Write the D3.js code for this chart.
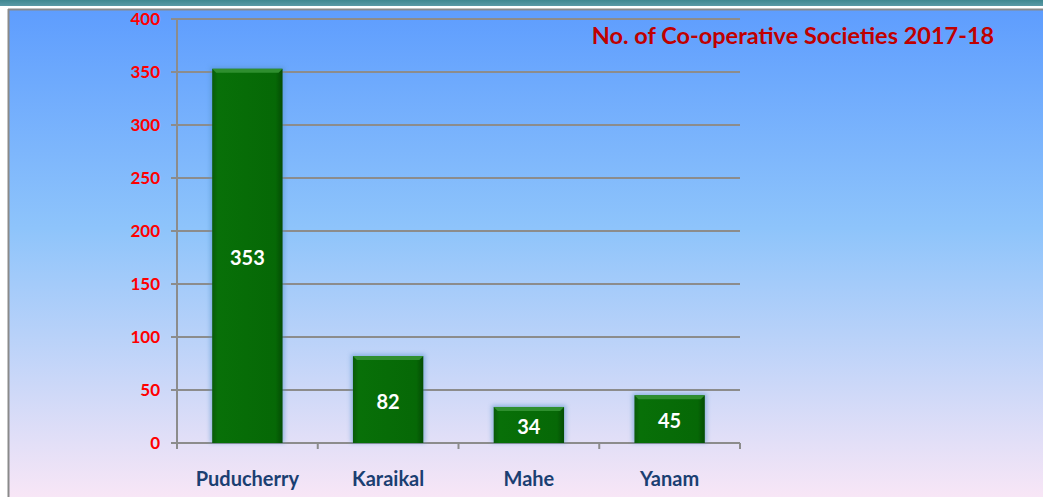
<!DOCTYPE html>
<html lang="en">
<head>
<meta charset="utf-8">
<title>No. of Co-operative Societies 2017-18</title>
<script src="https://cdn.jsdelivr.net/npm/d3@7"></script>
<style>
  body { margin: 0; background: #fff; }
  svg { display: block; font-family: Lato, "Open Sans", sans-serif; }
</style>
</head>
<body>
<script>
// data
var regions = ["Puducherry", "Karaikal", "Mahe", "Yanam"];
var societies = [353, 82, 34, 45];
var yTicks = [0, 50, 100, 150, 200, 250, 300, 350, 400];
var title = "No. of Co-operative Societies 2017-18";

var w = 1043, h = 497;
var svg = d3.select("body").append("svg").attr("width", w).attr("height", h);
var defs = svg.append("defs");

// page background gradient
var bg = defs.append("linearGradient").attr("id", "bg").attr("x1", 0).attr("y1", 0).attr("x2", 0).attr("y2", 1);
bg.append("stop").attr("offset", "0%").attr("stop-color", "#5e9dfe");
bg.append("stop").attr("offset", "45%").attr("stop-color", "#8ec4fb");
bg.append("stop").attr("offset", "100%").attr("stop-color", "#f8e6f6");

var topBand = defs.append("linearGradient").attr("id", "topband").attr("x1", 0).attr("y1", 0).attr("x2", 0).attr("y2", 1);
topBand.append("stop").attr("offset", "0%").attr("stop-color", "#3f8790");
topBand.append("stop").attr("offset", "100%").attr("stop-color", "#5a9aa6");

// bar gradient (slight bevel look)
var barG = defs.append("linearGradient").attr("id", "barg").attr("x1", 0).attr("y1", 0).attr("x2", 1).attr("y2", 0);
barG.append("stop").attr("offset", "0%").attr("stop-color", "#0a5a0a");
barG.append("stop").attr("offset", "8%").attr("stop-color", "#087008");
barG.append("stop").attr("offset", "90%").attr("stop-color", "#066806");
barG.append("stop").attr("offset", "100%").attr("stop-color", "#044c04");

var shadow = defs.append("filter").attr("id", "glow").attr("x", "-20%").attr("y", "-20%").attr("width", "140%").attr("height", "140%");
shadow.append("feGaussianBlur").attr("stdDeviation", 2);

svg.append("rect").attr("width", w).attr("height", h).attr("fill", "#fff");
svg.append("rect").attr("x", 0).attr("y", 0).attr("width", w).attr("height", 6).attr("fill", "url(#topband)");
svg.append("rect").attr("x", 8).attr("y", 9).attr("width", w - 8).attr("height", h - 9)
  .attr("fill", "url(#bg)");
svg.append("line").attr("x1", 8).attr("x2", w).attr("y1", 9.5).attr("y2", 9.5).attr("stroke", "#8a8a8a").attr("stroke-width", 2);
svg.append("line").attr("x1", 8.5).attr("x2", 8.5).attr("y1", 9).attr("y2", h).attr("stroke", "#8a8a8a").attr("stroke-width", 2);

// scales
var x = d3.scaleBand().domain(regions).range([177, 740]).paddingInner(0.5).paddingOuter(0.25);
var y = d3.scaleLinear().domain([0, 400]).range([443, 19]);

// gridlines
svg.append("g").selectAll("line")
  .data(yTicks)
  .enter()
  .append("line")
  .attr("x1", 171)
  .attr("x2", 740)
  .attr("y1", function(d) { return y(d); })
  .attr("y2", function(d) { return y(d); })
  .attr("stroke", "#8c8c8c")
  .attr("stroke-width", 2);

// y axis line
svg.append("line").attr("x1", 177).attr("x2", 177).attr("y1", y(400)).attr("y2", y(0) + 1)
  .attr("stroke", "#8c8c8c").attr("stroke-width", 2);

// x ticks between categories
var xEdges = d3.range(regions.length + 1).map(function(i) { return 177 + i * (740 - 177) / regions.length; });
svg.append("g").selectAll("line")
  .data(xEdges)
  .enter()
  .append("line")
  .attr("x1", function(d) { return d; })
  .attr("x2", function(d) { return d; })
  .attr("y1", y(0))
  .attr("y2", y(0) + 6)
  .attr("stroke", "#8c8c8c")
  .attr("stroke-width", 2);

// y tick labels
svg.append("g").selectAll("text")
  .data(yTicks)
  .enter()
  .append("text")
  .text(function(d) { return d; })
  .attr("x", 160)
  .attr("y", function(d) { return y(d) + 6; })
  .attr("text-anchor", "end")
  .attr("font-size", "17px")
  .attr("font-weight", "bold")
  .attr("fill", "#ff0000");

// bars with soft glow
var bars = svg.append("g").selectAll("g")
  .data(societies)
  .enter()
  .append("g");

bars.append("rect")
  .attr("x", function(d, i) { return x(regions[i]) - 2; })
  .attr("y", function(d) { return y(d) - 2; })
  .attr("width", x.bandwidth() + 4)
  .attr("height", function(d) { return y(0) - y(d) + 2; })
  .attr("fill", "#4f8fc8")
  .attr("opacity", 0.5)
  .attr("filter", "url(#glow)");

bars.append("rect")
  .attr("x", function(d, i) { return x(regions[i]); })
  .attr("y", function(d) { return y(d); })
  .attr("width", x.bandwidth())
  .attr("height", function(d) { return y(0) - y(d); })
  .attr("fill", "url(#barg)");

// lighter bevel on top edge
bars.append("path")
  .attr("d", function(d, i) {
    var x0 = x(regions[i]), x1 = x0 + x.bandwidth(), yy = y(d);
    return "M" + x0 + "," + yy + "L" + x1 + "," + yy + "L" + (x1 - 4) + "," + (yy + 4) + "L" + (x0 + 4) + "," + (yy + 4) + "Z";
  })
  .attr("fill", "#2f8f2f");

// value labels
bars.append("text")
  .text(function(d) { return d; })
  .attr("x", function(d, i) { return x(regions[i]) + x.bandwidth() / 2; })
  .attr("y", function(d) { return (y(d) + y(0)) / 2 + 9; })
  .attr("text-anchor", "middle")
  .attr("font-size", "20px")
  .attr("font-weight", "bold")
  .attr("fill", "#ffffff");

// category labels
svg.append("g").selectAll("text")
  .data(regions)
  .enter()
  .append("text")
  .text(function(d) { return d; })
  .attr("x", function(d) { return x(d) + x.bandwidth() / 2; })
  .attr("y", 486)
  .attr("text-anchor", "middle")
  .attr("font-size", "20px")
  .attr("font-weight", "bold")
  .attr("fill", "#1b3f72");

// title
svg.append("text")
  .text(title)
  .attr("x", 793)
  .attr("y", 44)
  .attr("text-anchor", "middle")
  .attr("font-size", "23.5px")
  .attr("font-weight", "bold")
  .attr("fill", "#c00000");
</script>
</body>
</html>
